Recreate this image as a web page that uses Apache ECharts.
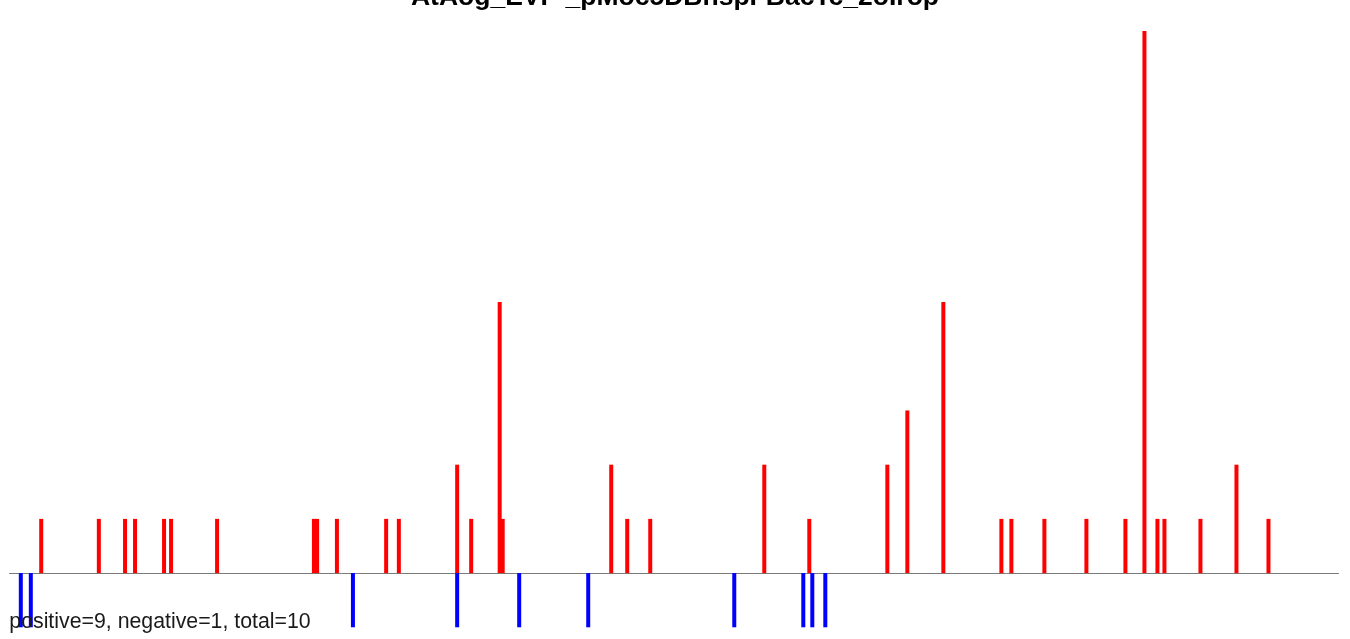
<!DOCTYPE html>
<html>
<head>
<meta charset="utf-8">
<script src="https://cdn.jsdelivr.net/npm/echarts@6/dist/echarts.min.js"></script>
<style>
html,body{margin:0;padding:0;background:#fff;}
#chart{width:1350px;height:639px;}
</style>
</head>
<body>
<div id="chart"></div>
<script>
var titleText = "AtAog_EVP _pMoc5DBhspFBacTc_2oIrop";
var summaryText = "positive=9, negative=1, total=10";

// positions along the sequence (arbitrary units) and scores
var posX = [31.7, 89.3, 115.5, 125.5, 154.5, 161.5, 207.5, 304.3, 307.5, 327.3, 376.5, 389.2,
            447.5, 461.5, 490, 493, 601.5, 617.5, 640.5, 754.5, 799.5, 877.5, 897.5, 933.5,
            991.5, 1001.5, 1034.5, 1076.5, 1115.5, 1134.5, 1147.5, 1154.5, 1190.5, 1226.5, 1258.5];
var posY = [1, 1, 1, 1, 1, 1, 1, 1, 1, 1, 1, 1,
            2, 1, 5, 1, 2, 1, 1, 2, 1, 2, 3, 5,
            1, 1, 1, 1, 1, 10, 1, 1, 1, 2, 1];
var negX = [11.3, 21.3, 343.3, 447.5, 509.5, 578.5, 724.5, 793.5, 802.5, 815.5];
var negY = [-1, -1, -1, -1, -1, -1, -1, -1, -1, -1];

var xMin = 0, xMax = 1328.5;
var yMin = -1, yMax = 10;

function pairs(xs, ys) {
  return xs.map(function (x, i) { return [x, ys[i]]; });
}

var chart = echarts.init(document.getElementById('chart'), null, {renderer: 'canvas'});
chart.setOption({
  animation: false,
  backgroundColor: '#ffffff',
  grid: {left: 9.5, right: 11.5, top: 31, bottom: 11.7, containLabel: false},
  xAxis: {
    type: 'value', min: xMin, max: xMax,
    axisLine: {show: true, onZero: true, lineStyle: {color: '#7a7a7a', width: 1}},
    axisTick: {show: false}, axisLabel: {show: false}, splitLine: {show: false}
  },
  yAxis: {
    type: 'value', min: yMin, max: yMax,
    axisLine: {show: false}, axisTick: {show: false}, axisLabel: {show: false}, splitLine: {show: false}
  },
  series: [
    {
      type: 'bar', name: 'positive', data: pairs(posX, posY),
      barWidth: 4, barGap: '-100%',
      itemStyle: {color: '#ff0000'}, z: 1
    },
    {
      type: 'bar', name: 'negative', data: pairs(negX, negY),
      barWidth: 4, barGap: '-100%',
      itemStyle: {color: '#0000ff'}, z: 1
    }
  ],
  graphic: [
    {
      type: 'text', left: 'center', top: -15.5, z: 100,
      style: {text: titleText, font: 'bold 26.5px "Liberation Sans", Arial, sans-serif', fill: '#000'}
    },
    {
      type: 'text', x: 9.3, y: 611.5, z: 100,
      style: {text: summaryText, font: '21.3px "Liberation Sans", Arial, sans-serif', fill: '#1a1a1a', verticalAlign: 'top'}
    }
  ]
});
</script>
</body>
</html>
